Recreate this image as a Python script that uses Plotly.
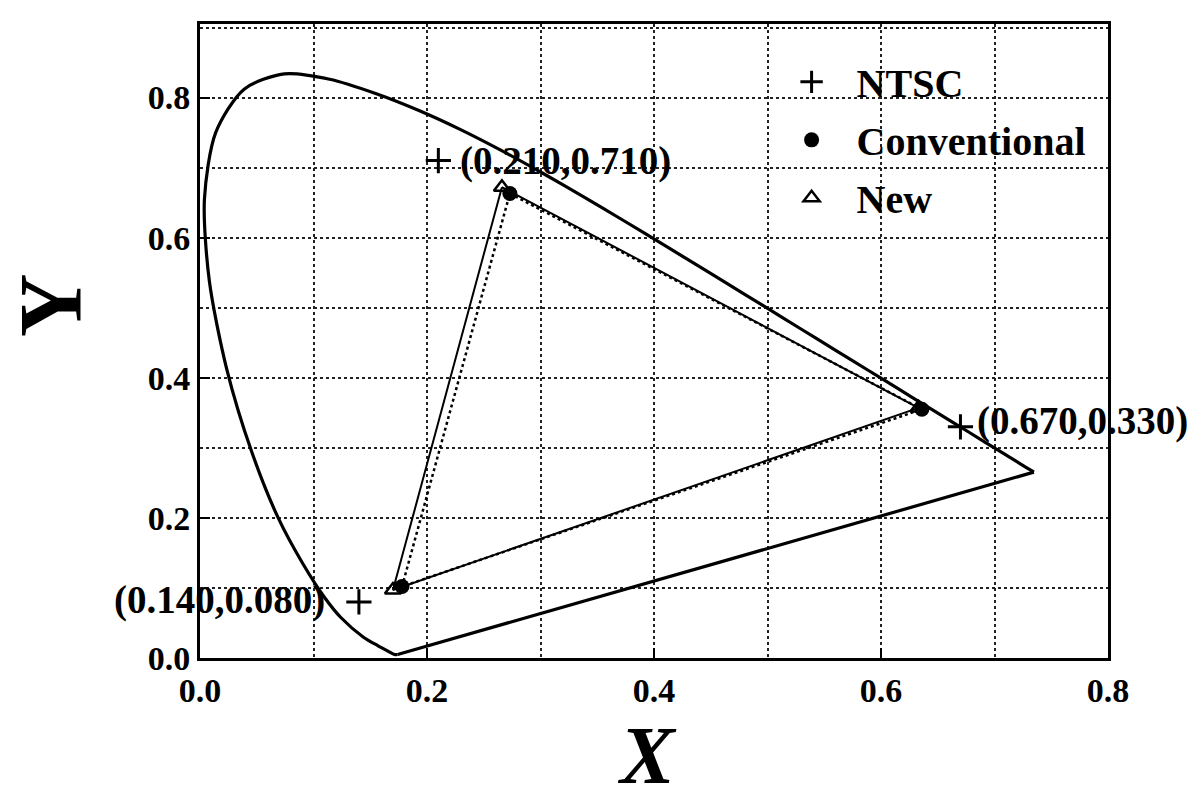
import plotly.graph_objects as go

# CIE 1931 spectral locus (chromaticity x, y), 380 nm -> 700 nm
locus_wavelength = [380, 420, 440, 450, 460, 470, 475, 480, 485, 490, 495,
                    500, 505, 510, 515, 520, 525, 530, 535, 540, 545, 550, 555, 560, 565,
                    570, 575, 580, 585, 590, 595, 600, 610, 620, 630, 640, 650, 660, 680, 700]
locus_x = [0.1741, 0.1714, 0.1644, 0.1566, 0.1440, 0.1241, 0.1096,
           0.0913, 0.0687, 0.0454, 0.0235, 0.0082, 0.0039, 0.0139, 0.0389, 0.0743, 0.1142,
           0.1547, 0.1929, 0.2296, 0.2658, 0.3016, 0.3373, 0.3731, 0.4087, 0.4441, 0.4788,
           0.5125, 0.5448, 0.5752, 0.6029, 0.6270, 0.6658, 0.6915, 0.7079, 0.7190, 0.7260,
           0.7300, 0.7334, 0.7347]
locus_y = [0.0050, 0.0051, 0.0109, 0.0177, 0.0297, 0.0578, 0.0868,
           0.1327, 0.2007, 0.2950, 0.4127, 0.5384, 0.6548, 0.7502, 0.8120, 0.8338, 0.8262,
           0.8059, 0.7816, 0.7543, 0.7243, 0.6923, 0.6589, 0.6245, 0.5896, 0.5547, 0.5202,
           0.4866, 0.4544, 0.4242, 0.3965, 0.3725, 0.3340, 0.3083, 0.2920, 0.2809, 0.2740,
           0.2700, 0.2666, 0.2653]

# NTSC primaries
ntsc_x = [0.210, 0.670, 0.140]
ntsc_y = [0.710, 0.330, 0.080]
ntsc_labels = ["(0.210,0.710)", "(0.670,0.330)", "(0.140,0.080)"]

# Conventional primaries (G, R, B)
conv_x = [0.273, 0.636, 0.178]
conv_y = [0.663, 0.355, 0.102]

# New primaries (G, R, B)
new_x = [0.266, 0.633, 0.170]
new_y = [0.672, 0.357, 0.097]

tick_vals = [0.0, 0.2, 0.4, 0.6, 0.8]
tick_text = ["0.0", "0.2", "0.4", "0.6", "0.8"]

SERIF = "Liberation Serif"

fig = go.Figure()

# spectral locus (smooth curve)
fig.add_trace(go.Scatter(
    x=locus_x, y=locus_y,
    mode="lines", line=dict(color="black", width=3.2, shape="spline", smoothing=0.8),
    showlegend=False, hoverinfo="skip"))

# purple line closing the locus
fig.add_trace(go.Scatter(
    x=[locus_x[-1], locus_x[0]], y=[locus_y[-1], locus_y[0]],
    mode="lines", line=dict(color="black", width=3.2),
    showlegend=False, hoverinfo="skip"))

# New gamut triangle (solid)
fig.add_trace(go.Scatter(
    x=new_x + [new_x[0]], y=new_y + [new_y[0]],
    mode="lines", line=dict(color="black", width=2),
    showlegend=False, hoverinfo="skip"))

# Conventional gamut triangle (dotted)
fig.add_trace(go.Scatter(
    x=conv_x + [conv_x[0]], y=conv_y + [conv_y[0]],
    mode="lines", line=dict(color="black", width=2.5, dash="dot"),
    showlegend=False, hoverinfo="skip"))

fig.add_trace(go.Scatter(
    x=ntsc_x, y=ntsc_y, mode="markers", name="NTSC",
    legendgroup="a",
    marker=dict(symbol="cross-thin", size=18, color="black",
                line=dict(color="black", width=3))))

fig.add_trace(go.Scatter(
    x=conv_x, y=conv_y, mode="markers", name="Conventional",
    legendgroup="b",
    marker=dict(symbol="circle", size=15, color="black")))

fig.add_trace(go.Scatter(
    x=new_x, y=new_y, mode="markers", name="New",
    legendgroup="c",
    marker=dict(symbol="triangle-up-open", size=14, color="black",
                line=dict(color="black", width=2.5))))

label_font = dict(family=SERIF, size=39, color="black", weight="bold")
shifts = [(20, 0, "left"), (15, 6, "left"), (-32, 2, "right")]
for xv, yv, txt, (xs, ys, anc) in zip(ntsc_x, ntsc_y, ntsc_labels, shifts):
    fig.add_annotation(x=xv, y=yv, text=txt, showarrow=False, xanchor=anc,
                       yanchor="middle", xshift=xs, yshift=ys, font=label_font)

# axis titles
fig.add_annotation(xref="paper", yref="paper", x=-0.164, y=0.557, text="Y",
                   showarrow=False, textangle=-90, xanchor="center", yanchor="middle",
                   font=dict(family=SERIF, size=88, color="black", weight="bold"))
fig.add_annotation(xref="paper", yref="paper", x=0.492, y=-0.2285, text="X",
                   showarrow=False, xanchor="center", yanchor="bottom",
                   font=dict(family=SERIF, size=82, color="black",
                             weight="bold", style="italic"))

axis_common = dict(
    showline=True, mirror=True, linecolor="black", linewidth=3,
    ticks="inside", ticklen=10, tickwidth=2, tickcolor="black",
    showgrid=True, gridcolor="#222", griddash="dot", gridwidth=1.5,
    minor=dict(dtick=0.1, showgrid=True, gridcolor="#222", griddash="dot", gridwidth=1.5),
    tickvals=tick_vals, ticktext=tick_text,
    tickfont=dict(family=SERIF, size=34, color="black", weight="bold"),
    zeroline=False, automargin=False,
)

fig.update_layout(
    width=1199, height=805,
    margin=dict(l=200, r=91, t=24, b=147),
    paper_bgcolor="white", plot_bgcolor="white",
    xaxis=dict(range=[0, 0.8], **axis_common),
    yaxis=dict(range=[0, 0.905], **axis_common),
    legend=dict(x=0.624, y=0.96, xanchor="left", yanchor="top",
                bgcolor="rgba(0,0,0,0)", borderwidth=0,
                font=dict(family=SERIF, size=40, color="black", weight="bold"),
                itemwidth=80, tracegroupgap=3, traceorder="grouped"),
    showlegend=True,
)

fig.write_html("out.html")
